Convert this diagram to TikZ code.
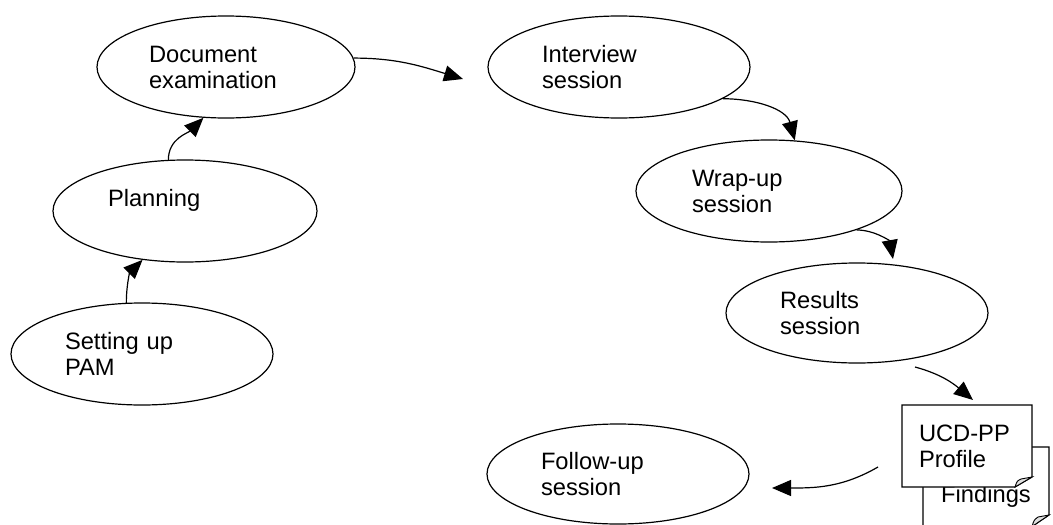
\documentclass[tikz,border=0pt]{standalone}
\usepackage{fontspec}
\setmainfont{Liberation Sans}
\usetikzlibrary{arrows.meta,shapes.geometric}
\tikzset{
  lbl/.style={font=\fontsize{23.7}{26}\selectfont},
  oval/.style={ellipse, draw, line width=1.2pt, inner sep=0pt, lbl,
    text width=154pt, align=left, minimum width=262pt, minimum height=102pt},
  conn/.style={line width=1.2pt, -{Triangle[length=19pt,width=16pt]}},
  docline/.style={line width=1.2pt, line join=miter},
  fold/.style={line width=0.9pt, fill=black!12}
}
\begin{document}
\begin{tikzpicture}[x=1pt,y=1pt]
\useasboundingbox (0,0) rectangle (1053,-525);
\clip (0,0) rectangle (1053,-525);

% ellipses
\node[oval, minimum width=258pt] (doc) at (226,-67) {Document\\examination};
\node[oval] (int) at (619,-67) {Interview\\session};
\node[oval, minimum width=264pt] (plan) at (185,-211) {Planning\\\mbox{}};
\node[oval] (pam) at (142,-354) {Setting up\\PAM};
\node[oval, minimum width=266pt] (wrap) at (769,-191) {Wrap-up\\session};
\node[oval, minimum height=100pt] (res) at (857,-313) {Results\\session};
\node[oval, minimum height=100pt] (fol) at (618,-474) {Follow-up\\session};

% Findings document (behind)
\coordinate (fa) at (923,-447);
\coordinate (fb) at (1049,-447);
\coordinate (fc) at (1049,-515);
\coordinate (fd) at (1032,-526.5);
\coordinate (fe) at (923,-526.5);
\draw[docline, fill=white] (fa) -- (fb) -- (fc) -- (fd) -- (fe) -- cycle;
\draw[fold] (fd) .. controls (1034,-520) .. (1038,-517) -- (fc) -- cycle;
\node[lbl, inner sep=0pt] (fnd) at (986,-496) {Findings};

% UCD-PP Profile document (front)
\coordinate (ua) at (902,-405);
\coordinate (ub) at (1032,-405);
\coordinate (uc) at (1032,-477);
\coordinate (ud) at (1015,-487);
\coordinate (ue) at (902,-487);
\draw[docline, fill=white] (ua) -- (ub) -- (uc) -- (ud) -- (ue) -- cycle;
\draw[fold] (ud) .. controls (1017,-481) .. (1021,-479) -- (uc) -- cycle;
\node[lbl, inner sep=0pt, text width=96pt, align=left, minimum width=130pt, minimum height=82pt] (ucd) at (967,-446) {UCD-PP\\Profile};

% free ends
\coordinate (t3) at (463,-79);
\coordinate (t5) at (893,-259);
\coordinate (s6) at (915,-367);
\coordinate (t6) at (973,-400);
\coordinate (s7) at (878,-467);
\coordinate (t7) at (772,-488);

% connectors
\draw[conn] (pam.107) to[out=90,in=225] (plan.229);
\draw[conn] (plan.108) to[out=90,in=225] (doc.246);
\draw[conn] (doc.4) to[out=0,in=163] (t3);
\draw[conn] (int.-17) to[out=0,in=105] (wrap.63);
\draw[conn] (wrap.-24) to[out=0,in=100] (t5);
\draw[conn] (s6) to[out=-15,in=140] (t6);
\draw[conn] (s7) to[out=210,in=0] (t7);
\end{tikzpicture}
\end{document}
